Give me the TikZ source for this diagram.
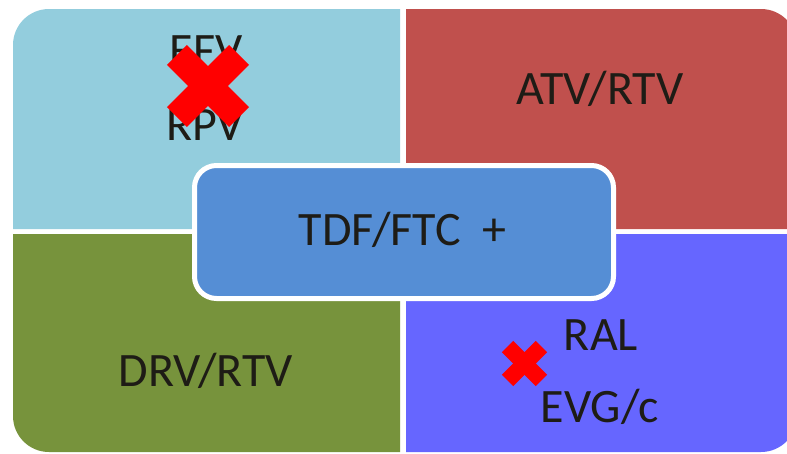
\documentclass[tikz,border=0pt]{standalone}
\usepackage{fontspec}
\setmainfont{Carlito}
\definecolor{qaqua}{HTML}{93CDDD}
\definecolor{qred}{HTML}{C0504D}
\definecolor{qolive}{HTML}{77933C}
\definecolor{qviolet}{HTML}{6666FF}
\definecolor{qcentre}{HTML}{558ED5}
\definecolor{ink}{HTML}{1E1C16}
\tikzset{
  lbl/.style={anchor=base, text=ink, inner sep=0pt, font=\fontsize{48}{56}\selectfont},
  crossbar/.style={fill=red}
}
\begin{document}
\begin{tikzpicture}[x=1pt,y=-1pt]
  \useasboundingbox (0,0) rectangle (787,453);
  \fill[white] (0,0) rectangle (787,453);
  \begin{scope}
    \clip (0,0) rectangle (787,453);
    % four quadrants, outer corners rounded
    \fill[qaqua] (400,229) -- (13,229) [rounded corners=36pt] -- (13,9) [sharp corners] -- (400,9) -- cycle;
    \fill[qred] (406,229) -- (406,9) [rounded corners=36pt] -- (797,9) [sharp corners] -- (797,229) -- cycle;
    \fill[qolive] (400,234) -- (400,452) [rounded corners=36pt] -- (13,452) [sharp corners] -- (13,234) -- cycle;
    \fill[qviolet] (406,234) -- (797,234) [rounded corners=36pt] -- (797,452) [sharp corners] -- (406,452) -- cycle;
  \end{scope}
  % quadrant labels
  \node[lbl] (efv) at (206,66) {EFV};
  \node[lbl] (rpv) at (205,140) {RPV};
  \node[lbl] (atv) at (600,104) {ATV/RTV};
  \node[lbl] (drv) at (206,386) {DRV/RTV};
  \node[lbl] (ral) at (601,350) {RAL};
  \node[lbl] (evg) at (600,422) {EVG/c};
  % crosses
  \begin{scope}[shift={(208,86)}]
    \fill[crossbar, rotate=45] (-44,-14) rectangle (44,14);
    \fill[crossbar, rotate=-45] (-44,-14) rectangle (44,14);
  \end{scope}
  \begin{scope}[shift={(524.5,363.5)}]
    \fill[crossbar, rotate=45] (-24,-8) rectangle (24,8);
    \fill[crossbar, rotate=-45] (-24,-8) rectangle (24,8);
  \end{scope}
  % central box
  \draw[white, line width=5pt, fill=qcentre, rounded corners=22pt] (194.5,165.5) rectangle (613.5,298.5);
  \node[lbl] (tdf) at (402.5,245) {TDF/FTC\ \ +};
\end{tikzpicture}
\end{document}
